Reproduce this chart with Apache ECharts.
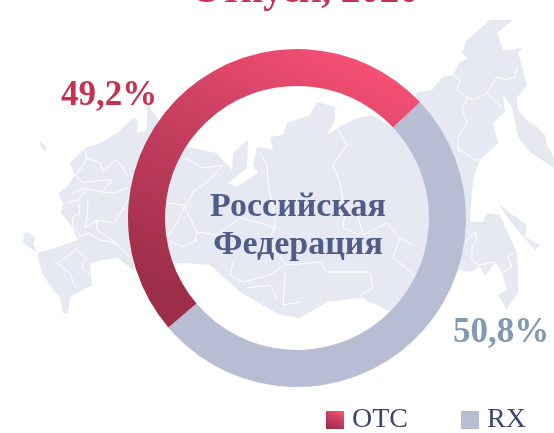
<!DOCTYPE html>
<html><head><meta charset="utf-8">
<style>html,body{margin:0;padding:0;background:#fff}#c{width:554px;height:433px}</style>
<script src="https://cdn.jsdelivr.net/npm/echarts@6/dist/echarts.min.js"></script></head>
<body><div id="c"></div>
<script>
const categories = ['RX', 'OTC'];
const shares = [50.8, 49.2];
const legendOrder = ['OTC', 'RX'];
const titleText = 'Отпуск, 2020';
const centerText = 'Российская\nФедерация';

const mapMain = [[147,103],[157,117],[165,130],[180,148],[192,148],[217,153],[223,160],[232,170],[233,153],[248,140],[247,168],[228,183],[237,187],[258,173],[253,165],[257,147],[267,148],[273,150],[270,137],[283,135],[287,123],[310,115],[317,102],[335,107],[335,120],[327,135],[337,128],[357,118],[373,115],[393,128],[418,92],[432,90],[442,77],[453,75],[460,62],[468,58],[462,53],[467,40],[490,20],[513,20],[497,33],[503,50],[523,48],[518,52],[527,85],[517,98],[518,110],[527,120],[537,127],[545,135],[547,145],[554,157],[554,168],[530,152],[518,137],[512,107],[503,95],[505,112],[493,123],[498,143],[480,160],[475,172],[472,190],[470,222],[483,222],[487,213],[500,215],[517,253],[518,270],[518,293],[506,310],[505,307],[498,295],[507,290],[502,273],[495,263],[485,276],[480,267],[470,272],[458,270],[440,290],[420,300],[390,312],[377,305],[360,298],[327,302],[300,318],[280,315],[240,292],[210,265],[180,263],[133,270],[118,258],[103,260],[90,263],[92,285],[70,297],[68,313],[63,313],[60,297],[53,290],[42,273],[37,253],[55,248],[78,240],[72,227],[61,213],[63,203],[58,193],[67,187],[75,175],[70,163],[85,148],[100,143],[102,142],[117,133],[133,118],[138,120],[137,133],[147,130]];
const mapKaliningrad = [[24,233],[27,232],[35,238],[33,243],[37,252],[33,250],[23,243]];
const mapIsland = [[39,142],[42,142],[47,148],[46,151],[42,149]];
const mapSakhalin = [[498,203],[510,213],[527,225],[525,237],[540,245],[535,250],[520,233],[507,217]];
const mapBorders = [
 [[85,150],[87,158],[80,170],[75,175]],
 [[87,158],[100,163],[103,172],[115,160],[122,165],[128,177]],
 [[75,175],[83,183],[103,180],[112,180],[102,192],[85,188],[72,193]],
 [[102,192],[115,193],[128,188]],
 [[67,203],[78,200],[87,188]],
 [[78,200],[80,213],[73,217],[72,227],[83,237]],
 [[88,200],[87,217],[85,228],[97,220],[115,223],[128,200]],
 [[97,220],[97,230],[115,242],[130,257]],
 [[78,237],[88,233],[100,240],[115,243]],
 [[53,260],[70,273],[75,287]],
 [[57,263],[72,253],[78,247]],
 [[78,250],[87,260],[82,263],[83,270],[92,275]],
 [[168,240],[183,247],[197,240]],
 [[167,203],[185,205],[177,223],[168,237]],
 [[185,158],[203,168],[223,165]],
 [[223,165],[207,182],[193,192],[185,208],[197,232],[195,242]],
 [[197,232],[217,235],[240,218],[257,222],[275,228],[267,242],[287,265]],
 [[260,152],[267,165],[268,185],[275,218],[275,228]],
 [[337,128],[347,145],[333,165],[340,182],[345,212],[343,228],[360,235]],
 [[357,212],[363,235],[377,228],[387,223],[400,238],[413,245]],
 [[287,265],[320,262],[327,272],[370,272],[373,288],[360,295],[377,312]],
 [[400,238],[393,258],[403,265],[423,285]],
 [[233,262],[230,275],[243,282],[270,275],[285,265]],
 [[285,272],[283,305],[300,302]],
 [[247,288],[270,285],[277,298]],
 [[453,75],[460,80],[457,90],[468,98],[462,108],[467,123],[458,137],[458,150],[465,153],[475,160],[483,160]],
 [[468,98],[473,100],[487,93],[497,77],[505,80],[515,77],[517,67]],
 [[487,93],[497,103],[503,107]],
 [[465,242],[475,232],[477,238],[472,248],[472,260],[478,265],[495,262],[502,273],[512,267],[508,257],[515,252]],
 [[478,265],[480,270]]
];

const serif = '"Liberation Serif", serif';
const otcGradient = new echarts.graphic.LinearGradient(0.85, 0, 0.35, 1, [
  {offset: 0, color: '#fb5277'},
  {offset: 0.45, color: '#cb4061'},
  {offset: 1, color: '#9c2e48'}
]);
const land = '#e6e9f1';
const landShapes = [mapMain, mapKaliningrad, mapIsland, mapSakhalin].map(points => ({
  type: 'polygon', silent: true, z: 0,
  shape: {points, smooth: 0}, style: {fill: land}
}));
const borderShapes = mapBorders.map(points => ({
  type: 'polyline', silent: true, z: 1,
  shape: {points}, style: {fill: null, stroke: '#fff', lineWidth: 1}
}));
const labelSpots = [
  {x: 501, y: 333, color: '#7f9bb0'},
  {x: 109, y: 96, color: '#c9304f'}
];

const chart = echarts.init(document.getElementById('c'), null, {renderer: 'canvas'});
chart.setOption({
  animation: false,
  backgroundColor: '#fff',
  graphic: {elements: [...landShapes, ...borderShapes]},
  title: [
    {text: titleText, left: 300, top: -33, textAlign: 'center',
     textStyle: {fontFamily: serif, fontSize: 39, fontWeight: 'bold', color: '#c9304f'}},
    {text: centerText, left: 293, top: 183, textAlign: 'center',
     textStyle: {fontFamily: serif, fontSize: 34, fontWeight: 'bold', color: '#4f5d88', lineHeight: 38}}
  ],
  legend: {
    data: legendOrder, left: 321, top: 401, itemWidth: 18, itemHeight: 18, itemGap: 53,
    icon: 'rect',
    textStyle: {fontFamily: serif, fontSize: 28, color: '#3c4668', padding: [3, 0, 0, 3]}
  },
  series: [{
    type: 'pie', center: [297, 218], radius: [132, 169], startAngle: 43.3,
    clockwise: true, silent: true, avoidLabelOverlap: false,
    data: categories.map((name, i) => ({
      name, value: shares[i],
      itemStyle: {color: name === 'OTC' ? otcGradient : '#b7bed3'},
      label: {color: labelSpots[i].color}
    })),
    label: {
      show: true, position: 'outside', fontFamily: serif, fontSize: 35, fontWeight: 'bold',
      formatter: p => String(p.value).replace('.', ',') + '%'
    },
    labelLine: {show: false},
    labelLayout: p => ({x: labelSpots[p.dataIndex].x, y: labelSpots[p.dataIndex].y, align: 'center', verticalAlign: 'middle'})
  }]
});
</script></body></html>
